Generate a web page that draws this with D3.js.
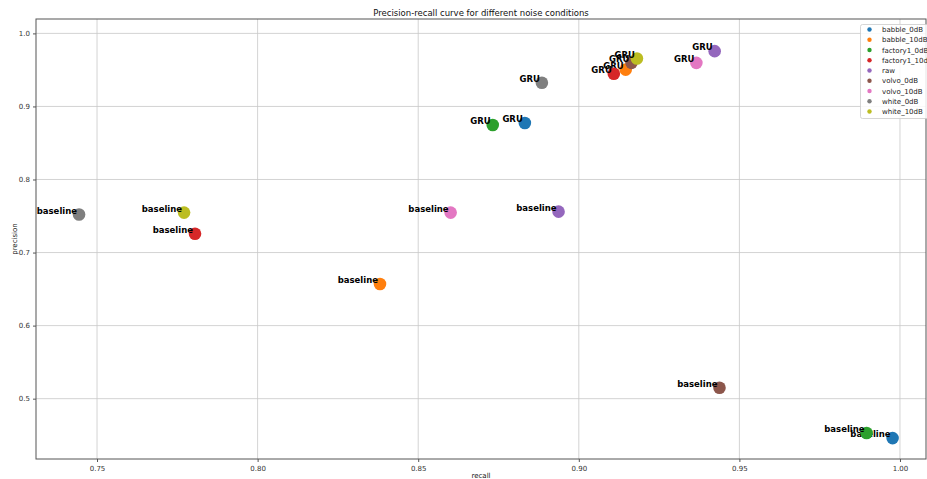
<!DOCTYPE html>
<html><head><meta charset="utf-8">
<script src="https://cdn.jsdelivr.net/npm/d3@7"></script>
<style>body{margin:0;background:#fff;font-family:"DejaVu Sans",sans-serif}</style>
</head><body><svg id="c" width="927" height="479"></svg>
<script>
const conditions = ["babble_0dB","babble_10dB","factory1_0dB","factory1_10dB","raw","volvo_0dB","volvo_10dB","white_0dB","white_10dB"];
const colors = ["#1f77b4","#ff7f0e","#2ca02c","#d62728","#9467bd","#8c564b","#e377c2","#7f7f7f","#bcbd22"];
const baselineRecall    = [0.9977,0.8381,0.9896,0.7805,0.8937,0.9438,0.8601,0.7444,0.7771];
const baselinePrecision = [0.446,0.657,0.453,0.7258,0.756,0.515,0.7547,0.752,0.7547];
const gruRecall    = [0.8832,0.9146,0.8732,0.9109,0.9423,0.9164,0.9366,0.8885,0.9181];
const gruPrecision = [0.8774,0.9504,0.8746,0.9448,0.9757,0.9597,0.9597,0.9324,0.9656];
const xTicks = [0.75,0.80,0.85,0.90,0.95,1.00];
const yTicks = [0.5,0.6,0.7,0.8,0.9,1.0];

const svg = d3.select("#c");
const L=36,R=926,T=19,B=459;
const x = d3.scaleLinear().domain([0.731,1.0081]).range([L,R]);
const y = d3.scaleLinear().domain([0.4174,1.0197]).range([B,T]);

// grid
svg.append("g").selectAll("line").data(xTicks).join("line")
  .attr("x1",d=>x(d)).attr("x2",d=>x(d)).attr("y1",T).attr("y2",B)
  .attr("stroke","#c8c8c8").attr("stroke-width",0.8);
svg.append("g").selectAll("line").data(yTicks).join("line")
  .attr("y1",d=>y(d)).attr("y2",d=>y(d)).attr("x1",L).attr("x2",R)
  .attr("stroke","#c8c8c8").attr("stroke-width",0.8);

// axes
const xa = svg.append("g").attr("transform",`translate(0,${B})`)
  .call(d3.axisBottom(x).tickValues(xTicks).tickFormat(d3.format(".2f")).tickSize(3).tickSizeOuter(0));
const ya = svg.append("g").attr("transform",`translate(${L},0)`)
  .call(d3.axisLeft(y).tickValues(yTicks).tickFormat(d3.format(".1f")).tickSize(3).tickSizeOuter(0));
[xa,ya].forEach(a=>{a.select(".domain").remove();
  a.selectAll("text").attr("font-size",7).attr("fill","#333").attr("font-family","DejaVu Sans");
  a.selectAll("line").attr("stroke","#555");});
xa.selectAll("text").attr("dy","0.9em");

svg.append("rect").attr("x",L).attr("y",T).attr("width",R-L).attr("height",B-T)
  .attr("fill","none").attr("stroke","#555").attr("stroke-width",1);

// points
const pts = conditions.map((c,i)=>({c,i}));
const g = svg.append("g");
pts.forEach(p=>{
  g.append("circle").attr("cx",x(baselineRecall[p.i])).attr("cy",y(baselinePrecision[p.i])).attr("r",6.3).attr("fill",colors[p.i]);
  g.append("text").attr("x",x(baselineRecall[p.i])-2).attr("y",y(baselinePrecision[p.i])-1)
    .attr("text-anchor","end").attr("font-size",8.5).attr("font-weight","bold").attr("fill","#000").text("baseline");
  g.append("circle").attr("cx",x(gruRecall[p.i])).attr("cy",y(gruPrecision[p.i])).attr("r",6.3).attr("fill",colors[p.i]);
  g.append("text").attr("x",x(gruRecall[p.i])-2).attr("y",y(gruPrecision[p.i])-1)
    .attr("text-anchor","end").attr("font-size",8.5).attr("font-weight","bold").attr("fill","#000").text("GRU");
});

// title and labels
svg.append("text").attr("x",(L+R)/2).attr("y",16).attr("text-anchor","middle").attr("font-size",8.5).attr("fill","#111")
  .text("Precision-recall curve for different noise conditions");
svg.append("text").attr("x",(L+R)/2).attr("y",478).attr("text-anchor","middle").attr("font-size",7).attr("fill","#111").text("recall");
svg.append("text").attr("transform","translate(17,239) rotate(-90)").attr("text-anchor","middle").attr("font-size",7).attr("fill","#111").text("precision");

// legend
const lg = svg.append("g");
lg.append("rect").attr("x",860.5).attr("y",24.5).attr("width",80).attr("height",94).attr("fill","#fff").attr("fill-opacity",0.85)
  .attr("stroke","#ccc").attr("stroke-width",0.8).attr("rx",2);
conditions.forEach((c,i)=>{
  const yy = 29.5 + i*10.25;
  lg.append("circle").attr("cx",869.5).attr("cy",yy).attr("r",2.2).attr("fill",colors[i]);
  lg.append("text").attr("x",882).attr("y",yy+2.5).attr("font-size",7).attr("fill","#222").text(c);
});
</script></body></html>
